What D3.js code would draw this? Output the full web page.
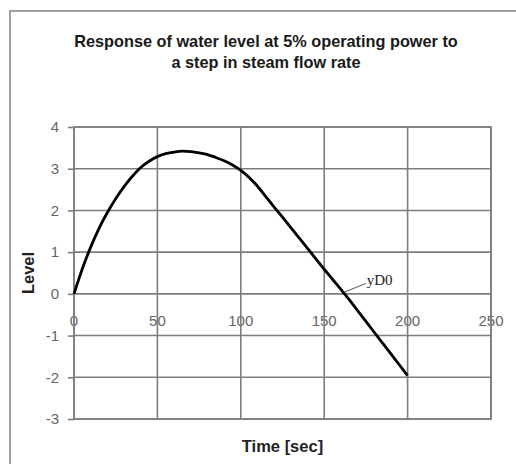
<!DOCTYPE html>
<html><head><meta charset="utf-8">
<script src="https://cdn.jsdelivr.net/npm/d3@7"></script>
<style>body{margin:0;background:#fff}</style>
</head><body>
<script>
const timeSec = [0,5,10,15,20,25,30,35,40,45,50,55,60,65,70,75,80,85,90,95,100,105,110,115,120,125,130,135,140,145,150,155,160,165,170,175,180,185,190,195,200];
const levelYD0 = [0,0.60,1.12,1.57,1.95,2.28,2.57,2.82,3.03,3.18,3.29,3.36,3.40,3.42,3.41,3.38,3.34,3.27,3.19,3.09,2.96,2.79,2.58,2.33,2.08,1.84,1.59,1.34,1.09,0.84,0.59,0.35,0.11,-0.14,-0.40,-0.66,-0.92,-1.18,-1.44,-1.70,-1.96];
const xTicks = [0,50,100,150,200,250];
const yTicks = [-3,-2,-1,0,1,2,3,4];
const titleLines = ["Response of water level at 5% operating power to","a step in steam flow rate"];
const seriesName = "yD0";

const W=516,H=464;
const svg=d3.select("body").append("svg").attr("width",W).attr("height",H);
const L=74,R=491,T=127,B=419;
const x=d3.scaleLinear().domain([0,250]).range([L,R]);
const y=d3.scaleLinear().domain([-3,4]).range([B,T]);
const grid="#7d7d7d";
const sans="Liberation Sans, Arial, sans-serif";

// outer frame
svg.append("rect").attr("x",10).attr("y",11).attr("width",W).attr("height",H).attr("fill","none").attr("stroke","#a0a0a0").attr("stroke-width",2);

// title
svg.append("g").selectAll("text").data(titleLines).join("text")
  .attr("x",266).attr("y",(d,i)=>47+i*21).attr("text-anchor","middle")
  .attr("font-family",sans).attr("font-weight","bold").attr("font-size",16.3).attr("fill","#1a1a1a")
  .text(d=>d);

// x tick labels (drawn under gridlines, next to zero line)
svg.append("g").selectAll("text").data(xTicks).join("text")
  .attr("x",d=>x(d)).attr("y",y(0)+32).attr("text-anchor","middle")
  .attr("font-family",sans).attr("font-size",15).attr("fill","#666")
  .text(d=>d);

// y axis with ticks
const yAxis=d3.axisLeft(y).tickValues(yTicks).tickSize(6).tickPadding(9).tickFormat(d=>String(d));
const ga=svg.append("g").attr("transform",`translate(${L},0)`).call(yAxis);
ga.select(".domain").remove();
ga.selectAll("line").attr("stroke",grid).attr("stroke-width",1.6);
ga.selectAll("text").attr("font-family",sans).attr("font-size",15).attr("fill","#666");

// gridlines
svg.append("g").selectAll("line").data(yTicks).join("line")
  .attr("x1",L).attr("x2",R).attr("y1",d=>y(d)).attr("y2",d=>y(d))
  .attr("stroke",grid).attr("stroke-width",1.6);
svg.append("g").selectAll("line").data(xTicks).join("line")
  .attr("y1",T).attr("y2",B).attr("x1",d=>x(d)).attr("x2",d=>x(d))
  .attr("stroke",grid).attr("stroke-width",1.6);
svg.append("rect").attr("x",L).attr("y",T).attr("width",R-L).attr("height",B-T)
  .attr("fill","none").attr("stroke",grid).attr("stroke-width",1.6);

// curve
const pts=timeSec.map((t,i)=>[t,levelYD0[i]]);
svg.append("path").datum(pts)
  .attr("d",d3.line().x(d=>x(d[0])).y(d=>y(d[1])).curve(d3.curveMonotoneX))
  .attr("fill","none").attr("stroke","#000").attr("stroke-width",2.8);

// series label with leader
svg.append("line").attr("x1",x(162)).attr("y1",y(0.04)).attr("x2",x(175)).attr("y2",y(0.25))
  .attr("stroke","#444").attr("stroke-width",0.9);
svg.append("text").attr("x",x(175.5)).attr("y",y(0.25)+1.5)
  .attr("font-family","Liberation Serif, Times New Roman, serif").attr("font-size",15).attr("fill","#222")
  .text(seriesName);

// axis titles
svg.append("text").attr("x",(L+R)/2).attr("y",452).attr("text-anchor","middle")
  .attr("font-family",sans).attr("font-weight","bold").attr("font-size",16.5).attr("fill","#222")
  .text("Time [sec]");
svg.append("text").attr("transform",`translate(34,${(T+B)/2}) rotate(-90)`).attr("text-anchor","middle")
  .attr("font-family",sans).attr("font-weight","bold").attr("font-size",16.5).attr("fill","#222")
  .text("Level");
</script>
</body></html>
